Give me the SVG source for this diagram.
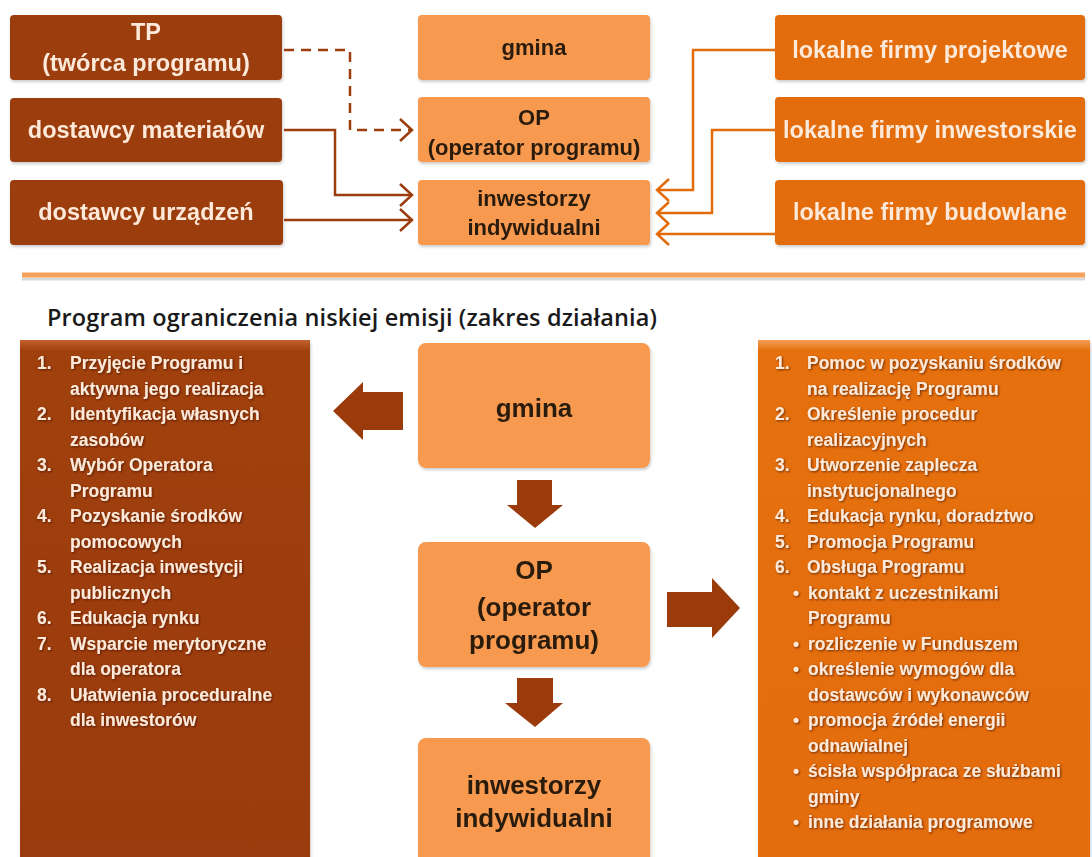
<svg xmlns="http://www.w3.org/2000/svg" width="1092" height="857" viewBox="0 0 1092 857">
<defs>
<style>
.dark{fill:#9c3d0e}
.light{fill:#f79a50}
.orng{fill:#e36c0a}
.tl{font-family:"Liberation Sans",Arial,sans-serif;font-weight:bold;font-size:23.5px;fill:#fde9d9;text-anchor:middle}
.tm{font-family:"Liberation Sans",Arial,sans-serif;font-weight:bold;font-size:22px;fill:#2a1a0c;text-anchor:middle}
.bm{font-family:"Liberation Sans",Arial,sans-serif;font-weight:bold;font-size:26px;fill:#2a1a0c;text-anchor:middle}
.li{font-family:"Liberation Sans",Arial,sans-serif;font-weight:bold;font-size:17.5px;fill:#fde9d9}
.title{font-family:"Open Sans","Liberation Sans",Arial,sans-serif;font-weight:600;font-size:23.5px;fill:#1a1a1a}
.cd{fill:none;stroke:#9c3d0e;stroke-width:2.5}
.co{fill:none;stroke:#e36c0a;stroke-width:2.5}
.bigarrow{fill:#9b3b0b}
</style>
<marker id="chevD" markerUnits="userSpaceOnUse" markerWidth="16" markerHeight="28" refX="13" refY="12" orient="auto">
<path d="M1,1 L13,12 L1,23" fill="none" stroke="#9c3d0e" stroke-width="2.5"/>
</marker>
<marker id="chevO" markerUnits="userSpaceOnUse" markerWidth="16" markerHeight="28" refX="13" refY="12" orient="auto">
<path d="M1,1 L13,12 L1,23" fill="none" stroke="#e36c0a" stroke-width="2.5"/>
</marker>
<linearGradient id="gDark" x1="0" y1="0" x2="0" y2="1">
<stop offset="0" stop-color="#c4622c"/>
<stop offset="0.02" stop-color="#a04010"/>
<stop offset="1" stop-color="#9a3b0c"/>
</linearGradient>
<linearGradient id="gOr" x1="0" y1="0" x2="0" y2="1">
<stop offset="0" stop-color="#f3a057"/>
<stop offset="0.02" stop-color="#e5700e"/>
<stop offset="1" stop-color="#e36c0a"/>
</linearGradient>
<filter id="sh" x="-5%" y="-5%" width="110%" height="115%">
<feDropShadow dx="1" dy="2" stdDeviation="1.5" flood-color="#000" flood-opacity="0.2"/>
</filter>
<filter id="tsh" x="-5%" y="-20%" width="110%" height="140%">
<feDropShadow dx="1" dy="1" stdDeviation="0.8" flood-color="#3a1000" flood-opacity="0.7"/>
</filter>
</defs>
<rect width="1092" height="857" fill="#ffffff"/>

<!-- top section nodes -->
<g id="tp" filter="url(#sh)"><rect class="dark" x="10" y="15" width="272" height="65" rx="4"/><text class="tl" x="146" y="40">TP</text><text class="tl" x="146" y="71">(twórca programu)</text></g>
<g id="dostawcy-materialow" filter="url(#sh)"><rect class="dark" x="10" y="98" width="272" height="64" rx="4"/><text class="tl" x="146" y="138">dostawcy materiałów</text></g>
<g id="dostawcy-urzadzen" filter="url(#sh)"><rect class="dark" x="10" y="180" width="273" height="65" rx="4"/><text class="tl" x="146" y="220">dostawcy urządzeń</text></g>

<g id="gmina-top" filter="url(#sh)"><rect class="light" x="418" y="15" width="232" height="65" rx="4"/><text class="tm" x="534" y="55">gmina</text></g>
<g id="op-top" filter="url(#sh)"><rect class="light" x="418" y="97" width="232" height="65" rx="4"/><text class="tm" x="534" y="125">OP</text><text class="tm" x="534" y="155">(operator programu)</text></g>
<g id="inwestorzy-top" filter="url(#sh)"><rect class="light" x="418" y="180" width="232" height="65" rx="4"/><text class="tm" x="534" y="206">inwestorzy</text><text class="tm" x="534" y="235">indywidualni</text></g>

<g id="firmy-projektowe" filter="url(#sh)"><rect class="orng" x="775" y="15" width="310" height="65" rx="4"/><text class="tl" x="930" y="58">lokalne firmy projektowe</text></g>
<g id="firmy-inwestorskie" filter="url(#sh)"><rect class="orng" x="775" y="97" width="310" height="65" rx="4"/><text class="tl" x="930" y="138">lokalne firmy inwestorskie</text></g>
<g id="firmy-budowlane" filter="url(#sh)"><rect class="orng" x="775" y="180" width="310" height="65" rx="4"/><text class="tl" x="930" y="220">lokalne firmy budowlane</text></g>

<!-- connectors -->
<g id="connectors">
<path class="cd" d="M284,50 H350 V130 H412" stroke-dasharray="10,7" marker-end="url(#chevD)"/>
<path class="cd" d="M284,130 H335 V195 H412" marker-end="url(#chevD)"/>
<path class="cd" d="M284,220 H412" marker-end="url(#chevD)"/>
<path class="co" d="M775,50 H693 V190 H657" marker-end="url(#chevO)"/>
<path class="co" d="M775,130 H712 V213 H657" marker-end="url(#chevO)"/>
<path class="co" d="M775,234 H657" marker-end="url(#chevO)"/>
<polygon class="bigarrow" points="403,392 363,392 363,382 333,411 363,440 363,430 403,430"/>
<polygon class="bigarrow" points="517,480 552,480 552,505 563,505 535,528 507,505 517,505"/>
<polygon class="bigarrow" points="667,592 712,592 712,578 740,608 712,638 712,627 667,627"/>
<polygon class="bigarrow" points="517,678 553,678 553,703 563,703 535,727 505,703 517,703"/>
</g>

<!-- separator -->
<line x1="22" y1="279" x2="1085" y2="279" stroke="#d9d9d9" stroke-width="3"/>
<line x1="22" y1="275" x2="1085" y2="275" stroke="#f5a25d" stroke-width="5"/>

<text class="title" x="47" y="326" textLength="610">Program ograniczenia niskiej emisji (zakres działania)</text>

<!-- bottom left list -->
<g id="gmina-zadania">
<rect x="20" y="340" width="290" height="530" fill="url(#gDark)" filter="url(#sh)"/>
<g class="li" filter="url(#tsh)">
<text x="37" y="369">1.</text><text x="70" y="369">Przyjęcie Programu i</text>
<text x="70" y="394.5">aktywna jego realizacja</text>
<text x="37" y="420">2.</text><text x="70" y="420">Identyfikacja własnych</text>
<text x="70" y="445.5">zasobów</text>
<text x="37" y="471">3.</text><text x="70" y="471">Wybór Operatora</text>
<text x="70" y="496.5">Programu</text>
<text x="37" y="522">4.</text><text x="70" y="522">Pozyskanie środków</text>
<text x="70" y="547.5">pomocowych</text>
<text x="37" y="573">5.</text><text x="70" y="573">Realizacja inwestycji</text>
<text x="70" y="598.5">publicznych</text>
<text x="37" y="624">6.</text><text x="70" y="624">Edukacja rynku</text>
<text x="37" y="649.5">7.</text><text x="70" y="649.5">Wsparcie merytoryczne</text>
<text x="70" y="675">dla operatora</text>
<text x="37" y="700.5">8.</text><text x="70" y="700.5">Ułatwienia proceduralne</text>
<text x="70" y="726">dla inwestorów</text>
</g>
</g>

<!-- bottom middle -->
<g id="gmina" filter="url(#sh)"><rect class="light" x="418" y="343" width="232" height="125" rx="8"/><text class="bm" x="534" y="417">gmina</text></g>
<g id="op" filter="url(#sh)"><rect class="light" x="418" y="542" width="232" height="125" rx="8"/><text class="bm" x="534" y="579">OP</text><text class="bm" x="534" y="616">(operator</text><text class="bm" x="534" y="649">programu)</text></g>
<g id="inwestorzy" filter="url(#sh)"><rect class="light" x="418" y="738" width="232" height="130" rx="8"/><text class="bm" x="534" y="794">inwestorzy</text><text class="bm" x="534" y="827">indywidualni</text></g>

<!-- bottom right list -->
<g id="op-zadania">
<rect x="758" y="340" width="332" height="530" fill="url(#gOr)" filter="url(#sh)"/>
<g class="li" filter="url(#tsh)">
<text x="775" y="369">1.</text><text x="807" y="369">Pomoc w pozyskaniu środków</text>
<text x="807" y="394.5">na realizację Programu</text>
<text x="775" y="420">2.</text><text x="807" y="420">Określenie procedur</text>
<text x="807" y="445.5">realizacyjnych</text>
<text x="775" y="471">3.</text><text x="807" y="471">Utworzenie zaplecza</text>
<text x="807" y="496.5">instytucjonalnego</text>
<text x="775" y="522">4.</text><text x="807" y="522">Edukacja rynku, doradztwo</text>
<text x="775" y="547.5">5.</text><text x="807" y="547.5">Promocja Programu</text>
<text x="775" y="573">6.</text><text x="807" y="573">Obsługa Programu</text>
<text x="793" y="598.5">•</text><text x="808" y="598.5">kontakt z uczestnikami</text>
<text x="808" y="624">Programu</text>
<text x="793" y="649.5">•</text><text x="808" y="649.5">rozliczenie w Funduszem</text>
<text x="793" y="675">•</text><text x="808" y="675">określenie wymogów dla</text>
<text x="808" y="700.5">dostawców i wykonawców</text>
<text x="793" y="726">•</text><text x="808" y="726">promocja źródeł energii</text>
<text x="808" y="751.5">odnawialnej</text>
<text x="793" y="777">•</text><text x="808" y="777">ścisła współpraca ze służbami</text>
<text x="808" y="802.5">gminy</text>
<text x="793" y="828">•</text><text x="808" y="828">inne działania programowe</text>
</g>
</g>
</svg>
